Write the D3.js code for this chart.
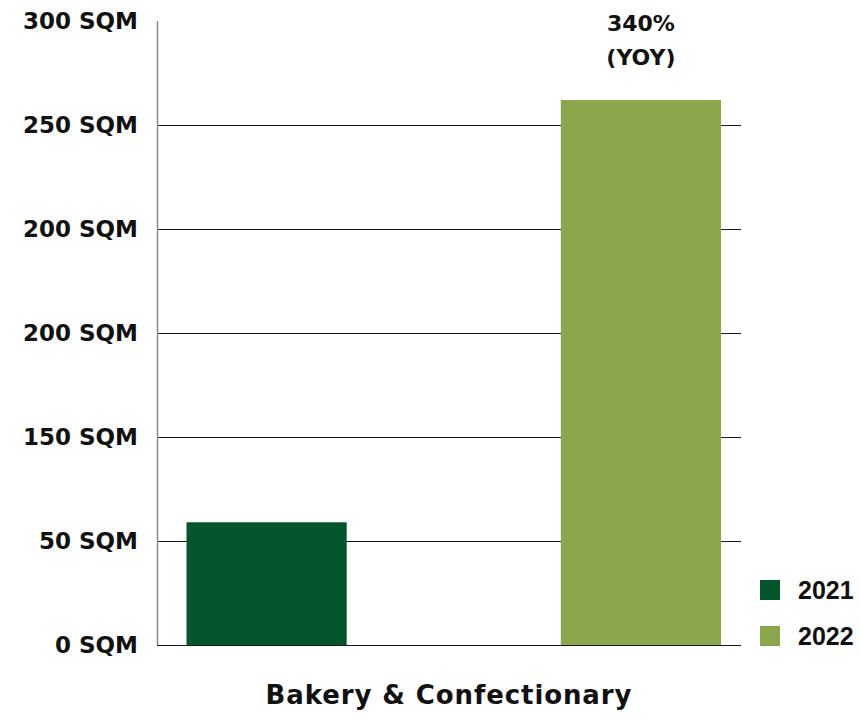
<!DOCTYPE html>
<html>
<head>
<meta charset="utf-8">
<script src="https://cdn.jsdelivr.net/npm/d3@7"></script>
<style>
  html, body { margin: 0; padding: 0; background: #fff; }
  svg { display: block; }
  text { font-family: "DejaVu Sans", sans-serif; font-weight: 700; fill: #111; }
</style>
</head>
<body>
<svg id="chart" width="861" height="718"></svg>
<script>
// Floor space added, Bakery & Confectionary
const category = "Bakery & Confectionary";
const years = ["2021", "2022"];
const values = [59, 262];
const colors = ["#03562c", "#8ba74b"];
const tickValues = [0, 50, 100, 150, 200, 250, 300];
const tickLabels = ["0 SQM", "50 SQM", "150 SQM", "200 SQM", "200 SQM", "250 SQM", "300 SQM"];
const growthLabel = ["340%", "(YOY)"];

const svg = d3.select("#chart");

const plot = { left: 157, right: 741, top: 21, bottom: 645 };

const y = d3.scaleLinear().domain([0, 300]).range([plot.bottom, plot.top]);
const x = d3.scaleBand().domain(years).range([186.5, 721]).paddingInner(0.572).paddingOuter(0);

// horizontal gridlines (none at the top value), snapped to the pixel grid
svg.append("g")
  .selectAll("line")
  .data(tickValues.filter(v => v < 300))
  .join("line")
  .attr("x1", plot.left).attr("x2", plot.right)
  .attr("y1", d => Math.round(y(d)) + 0.5).attr("y2", d => Math.round(y(d)) + 0.5)
  .attr("stroke", "#1a1a1a").attr("stroke-width", 1.2);

// vertical axis line
svg.append("line")
  .attr("x1", plot.left + 0.5).attr("x2", plot.left + 0.5)
  .attr("y1", y(300)).attr("y2", y(0))
  .attr("stroke", "#8a8a8a").attr("stroke-width", 1.5);

// tick labels
svg.append("g")
  .selectAll("text")
  .data(tickValues)
  .join("text")
  .attr("x", 138)
  .attr("y", d => y(d))
  .attr("dy", "0.36em")
  .attr("text-anchor", "end")
  .attr("font-size", 23)
  .text((d, i) => tickLabels[i]);

// bars
svg.append("g")
  .selectAll("rect")
  .data(years)
  .join("rect")
  .attr("x", d => x(d))
  .attr("width", x.bandwidth())
  .attr("y", (d, i) => y(values[i]))
  .attr("height", (d, i) => y(0) - y(values[i]))
  .attr("fill", (d, i) => colors[i]);

// growth annotation above the 2022 bar
const cx = x("2022") + x.bandwidth() / 2;
svg.append("g")
  .selectAll("text")
  .data(growthLabel)
  .join("text")
  .attr("x", cx)
  .attr("y", (d, i) => 31 + i * 34)
  .attr("text-anchor", "middle")
  .attr("font-size", 22)
  .text(d => d);

// legend
const legend = svg.append("g").selectAll("g")
  .data(years)
  .join("g")
  .attr("transform", (d, i) => `translate(760, ${580 + i * 46})`);
legend.append("rect")
  .attr("width", 20).attr("height", 20)
  .attr("fill", (d, i) => colors[i]);
legend.append("text")
  .attr("x", 38).attr("y", 10).attr("dy", "0.36em")
  .attr("font-size", 25)
  .style("font-family", "'Liberation Sans', Arial, sans-serif")
  .text(d => d);

// category label
svg.append("text")
  .attr("x", 449).attr("y", 704)
  .attr("text-anchor", "middle")
  .attr("font-size", 26)
  .attr("letter-spacing", 0.9)
  .text(category);
</script>
</body>
</html>
